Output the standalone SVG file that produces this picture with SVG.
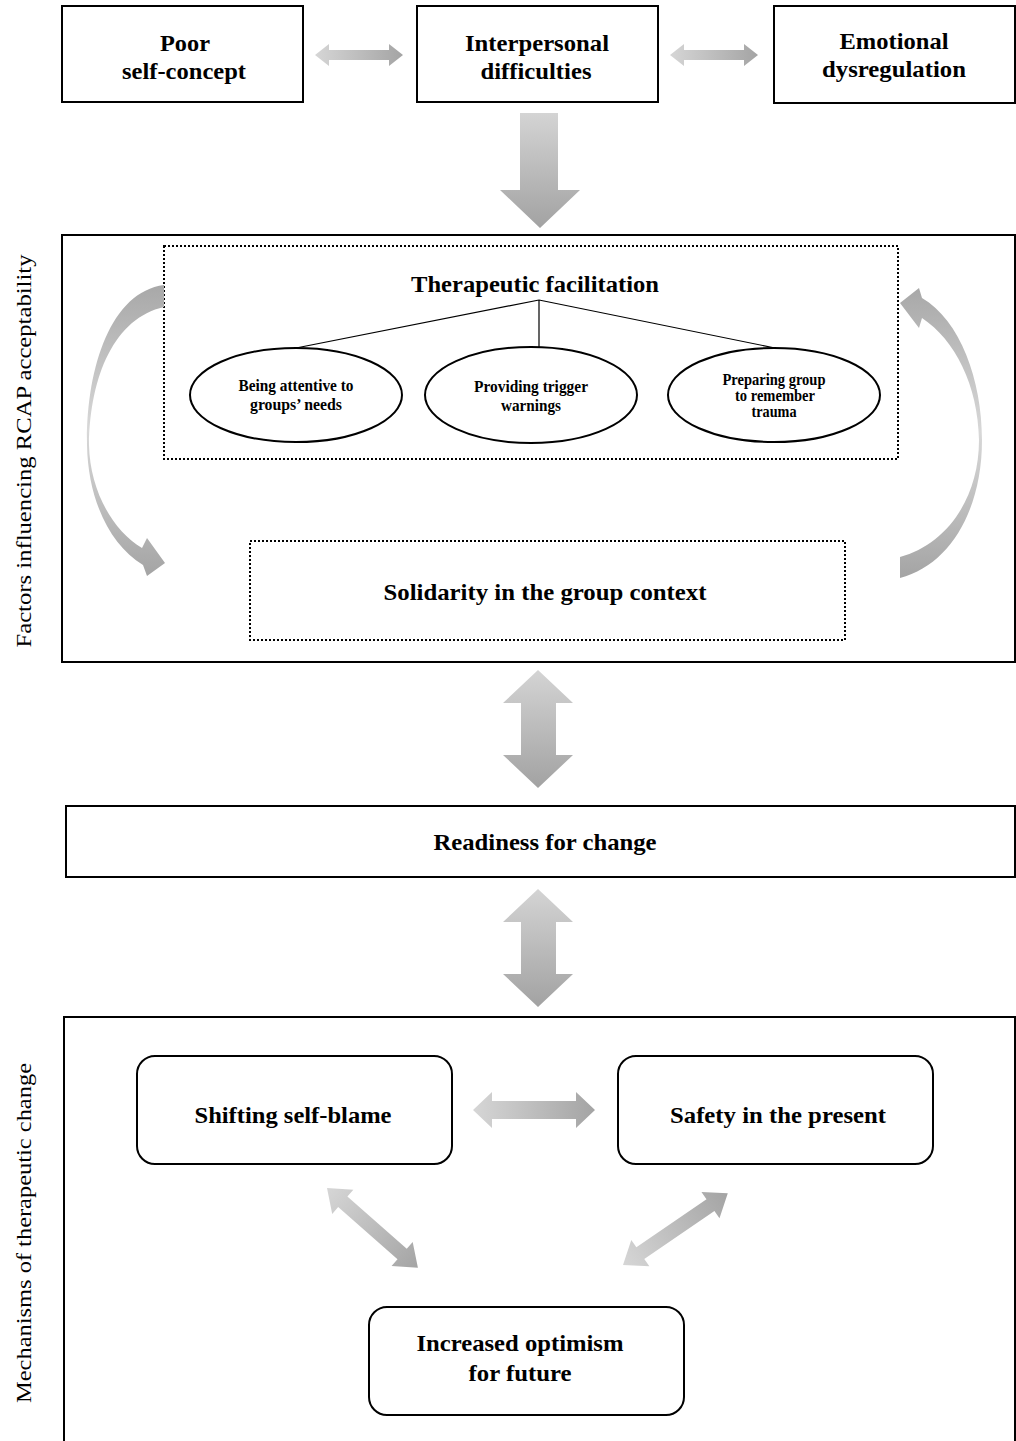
<svg xmlns="http://www.w3.org/2000/svg" width="1016" height="1441" viewBox="0 0 1016 1441">
<defs>
<linearGradient id="gh" x1="0" y1="0" x2="1" y2="0"><stop offset="0" stop-color="#d6d6d6"/><stop offset="1" stop-color="#a4a4a4"/></linearGradient>
<linearGradient id="gv" x1="0" y1="0" x2="0" y2="1"><stop offset="0" stop-color="#d4d4d4"/><stop offset="1" stop-color="#a2a2a2"/></linearGradient>
<linearGradient id="gc" x1="0" y1="0" x2="0" y2="1"><stop offset="0" stop-color="#a8a8a8"/><stop offset="0.5" stop-color="#d8d8d8"/><stop offset="1" stop-color="#a4a4a4"/></linearGradient>
<style>
.box{fill:#fff;stroke:#000;stroke-width:2}
.dot{fill:none;stroke:#000;stroke-width:2;stroke-dasharray:2 2}
.rbox{fill:#fff;stroke:#000;stroke-width:2}
.ell{fill:#fff;stroke:#000;stroke-width:2}
.t{font-family:"Liberation Serif","Times New Roman",serif;font-weight:bold;font-size:23px;text-anchor:middle;fill:#000}
.s{font-family:"Liberation Serif","Times New Roman",serif;font-weight:bold;font-size:16px;text-anchor:middle;fill:#000}
.v{font-family:"Liberation Serif","Times New Roman",serif;font-size:22px;text-anchor:middle;fill:#000}
.ln{stroke:#000;stroke-width:1.2;fill:none}
</style>
</defs>

<g id="frames">
<rect class="box" x="62" y="235" width="953" height="427"/>
<rect class="box" x="64" y="1017" width="951" height="440"/>
</g>

<g id="labels">
<text class="v" transform="translate(31,451) rotate(-90)" textLength="393" lengthAdjust="spacingAndGlyphs">Factors influencing RCAP acceptability</text>
<text class="v" transform="translate(31,1233) rotate(-90)" textLength="340" lengthAdjust="spacingAndGlyphs">Mechanisms of therapeutic change</text>
</g>

<g id="node-poor">
<rect class="box" x="62" y="6" width="241" height="96"/>
<text class="t" x="185" y="51" textLength="50" lengthAdjust="spacingAndGlyphs">Poor</text>
<text class="t" x="184" y="79" textLength="124" lengthAdjust="spacingAndGlyphs">self-concept</text>
</g>
<g id="node-interpersonal">
<rect class="box" x="417" y="6" width="241" height="96"/>
<text class="t" x="537" y="51" textLength="144" lengthAdjust="spacingAndGlyphs">Interpersonal</text>
<text class="t" x="536" y="79" textLength="111" lengthAdjust="spacingAndGlyphs">difficulties</text>
</g>
<g id="node-emotional">
<rect class="box" x="774" y="6" width="241" height="97"/>
<text class="t" x="894" y="49" textLength="109" lengthAdjust="spacingAndGlyphs">Emotional</text>
<text class="t" x="894" y="77" textLength="144" lengthAdjust="spacingAndGlyphs">dysregulation</text>
</g>

<g id="node-therapeutic">
<rect class="dot" x="164" y="246" width="734" height="213"/>
<text class="t" x="535" y="292" font-size="24" textLength="248" lengthAdjust="spacingAndGlyphs">Therapeutic facilitation</text>
</g>
<g id="node-attentive">
<ellipse class="ell" cx="296" cy="395" rx="106" ry="47"/>
<text class="s" x="296" y="391" textLength="115" lengthAdjust="spacingAndGlyphs">Being attentive to</text>
<text class="s" x="296" y="410" textLength="92" lengthAdjust="spacingAndGlyphs">groups’ needs</text>
</g>
<g id="node-trigger">
<ellipse class="ell" cx="531" cy="395" rx="106" ry="48"/>
<text class="s" x="531" y="392" textLength="114" lengthAdjust="spacingAndGlyphs">Providing trigger</text>
<text class="s" x="531" y="411" textLength="60" lengthAdjust="spacingAndGlyphs">warnings</text>
</g>
<g id="node-preparing">
<ellipse class="ell" cx="774" cy="395" rx="106" ry="47"/>
<text class="s" x="774" y="385" font-size="15" textLength="103" lengthAdjust="spacingAndGlyphs">Preparing group</text>
<text class="s" x="775" y="401" font-size="15" textLength="80" lengthAdjust="spacingAndGlyphs">to remember</text>
<text class="s" x="774" y="417" font-size="15" textLength="45" lengthAdjust="spacingAndGlyphs">trauma</text>
</g>
<g id="node-solidarity">
<rect class="dot" x="250" y="541" width="595" height="99"/>
<text class="t" x="545" y="600" textLength="323" lengthAdjust="spacingAndGlyphs">Solidarity in the group context</text>
</g>
<g id="node-readiness">
<rect class="box" x="66" y="806" width="949" height="71"/>
<text class="t" x="545" y="850" textLength="223" lengthAdjust="spacingAndGlyphs">Readiness for change</text>
</g>
<g id="node-shifting">
<rect class="rbox" x="137" y="1056" width="315" height="108" rx="18"/>
<text class="t" x="293" y="1123" textLength="197" lengthAdjust="spacingAndGlyphs">Shifting self-blame</text>
</g>
<g id="node-safety">
<rect class="rbox" x="618" y="1056" width="315" height="108" rx="18"/>
<text class="t" x="778" y="1123" textLength="216" lengthAdjust="spacingAndGlyphs">Safety in the present</text>
</g>
<g id="node-optimism">
<rect class="rbox" x="369" y="1307" width="315" height="108" rx="18"/>
<text class="t" x="520" y="1351" textLength="207" lengthAdjust="spacingAndGlyphs">Increased optimism</text>
<text class="t" x="520" y="1381" textLength="103" lengthAdjust="spacingAndGlyphs">for future</text>
</g>

<g id="connectors">
<path class="ln" d="M539,300 L296,348 M539,300 L539,348 M539,300 L775,348"/>
<polygon fill="url(#gh)" points="315,55 329,44 329,50 389,50 389,44 403,55 389,66 389,60 329,60 329,66"/>
<polygon fill="url(#gh)" points="670,55 684,44 684,50 744,50 744,44 758,55 744,66 744,60 684,60 684,66"/>
<polygon fill="url(#gv)" points="520,113 558,113 558,190 580,190 540,228 500,190 520,190"/>
<path fill="url(#gc)" d="M164,285 C110,292 86,370 87,445 C88,500 110,545 143,565 L147,576 L165,563 L147,538 L142,548 C112,530 90,490 89,445 C90,375 115,318 164,307 Z"/>
<path fill="url(#gc)" d="M900,303 L919,288 L922,298 C960,320 982,380 982,440 C982,510 950,565 900,578 L900,557 C945,545 979,500 979,440 C978,385 955,340 922,318 L919,328 Z"/>
<polygon fill="url(#gv)" points="538,670 573,703 556,703 556,755 573,755 538,788 503,755 521,755 521,703 503,703"/>
<polygon fill="url(#gv)" points="538,889 573,922 556,922 556,974 573,974 538,1007 503,974 521,974 521,922 503,922"/>
<polygon fill="url(#gh)" points="473,1110 492,1092 492,1101 576,1101 576,1092 595,1110 576,1128 576,1119 492,1119 492,1128"/>
<polygon fill="url(#gh)" transform="translate(327,1188) rotate(41.3)" points="0,0 21,-16 21,-7 100,-7 100,-16 121,0 100,16 100,7 21,7 21,16"/>
<polygon fill="url(#gh)" transform="translate(623,1265) rotate(-34.4)" points="0,0 21,-16 21,-7 106,-7 106,-16 127,0 106,16 106,7 21,7 21,16"/>
</g>
</svg>
